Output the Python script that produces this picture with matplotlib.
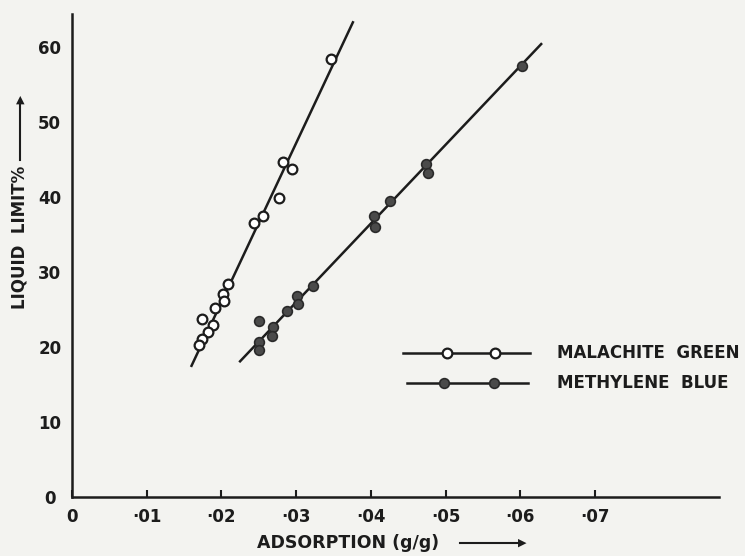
import matplotlib.pyplot as plt

# malachite green (open circles)
mg_x = [0.0347, 0.0282, 0.0294, 0.0277, 0.0243, 0.0256, 0.0209, 0.0202, 0.0204,
        0.0191, 0.0174, 0.0189, 0.0182, 0.0174, 0.0170]
mg_y = [58.4, 44.7, 43.7, 39.9, 36.5, 37.5, 28.4, 27.1, 26.1,
        25.2, 23.7, 22.9, 22.0, 21.1, 20.3]
mg_line_x = [0.0160, 0.0376]
mg_line_y = [17.5, 63.3]

# methylene blue (filled circles)
mb_x = [0.0250, 0.0250, 0.0250, 0.0269, 0.0268, 0.0288, 0.0301, 0.0303, 0.0323,
        0.0404, 0.0406, 0.0426, 0.0474, 0.0476, 0.0602]
mb_y = [23.5, 20.7, 19.6, 22.7, 21.5, 24.8, 26.8, 25.7, 28.1,
        37.5, 36.0, 39.5, 44.4, 43.2, 57.5]
mb_line_x = [0.0225, 0.0628]
mb_line_y = [18.1, 60.4]

x_ticks = [0.0, 0.01, 0.02, 0.03, 0.04, 0.05, 0.06, 0.07]
x_labels = ["0", "·01", "·02", "·03", "·04", "·05", "·06", "·07"]
y_ticks = [0, 10, 20, 30, 40, 50, 60]

paper = "#f3f3f0"
ink = "#1c1c1c"

fig = plt.figure(figsize=(7.45, 5.56), dpi=100, facecolor=paper)
ax = fig.add_axes([0.0966, 0.106, 0.8685, 0.8687], facecolor=paper)
ax.set_xlim(0, 0.0866)
ax.set_ylim(0, 64.4)

for s in ["top", "right"]:
    ax.spines[s].set_visible(False)
for s in ["left", "bottom"]:
    ax.spines[s].set_linewidth(1.8)
    ax.spines[s].set_color(ink)

ax.set_xticks(x_ticks)
ax.set_xticklabels(x_labels)
ax.set_yticks(y_ticks)
ax.tick_params(axis="x", direction="in", length=5, width=1.5, colors=ink,
               labelsize=12, pad=8)
ax.tick_params(axis="y", length=0, labelsize=12, pad=16, colors=ink)
for lab in ax.get_xticklabels() + ax.get_yticklabels():
    lab.set_fontweight("bold")
for lab in ax.get_yticklabels():
    lab.set_horizontalalignment("center")

ax.plot(mg_line_x, mg_line_y, color=ink, lw=1.8)
ax.plot(mb_line_x, mb_line_y, color=ink, lw=1.8)
ax.plot(mg_x, mg_y, "o", ms=7, mfc="white", mec=ink, mew=1.6, ls="none")
ax.plot(mb_x, mb_y, "o", ms=7, mfc="#4a4a4a", mec="#2a2a2a", mew=1.2, ls="none")

# hand-drawn style legend
ax.plot([0.0443, 0.0613], [19.2, 19.2], color=ink, lw=1.8, clip_on=False)
ax.plot([0.0502, 0.0566], [19.2, 19.2], "o", ms=7, mfc="white", mec=ink,
        mew=1.6, clip_on=False)
ax.plot([0.0448, 0.0610], [15.2, 15.2], color=ink, lw=1.8, clip_on=False)
ax.plot([0.0498, 0.0565], [15.2, 15.2], "o", ms=7, mfc="#4a4a4a", mec="#2a2a2a",
        mew=1.2, clip_on=False)
ax.text(0.0649, 19.2, "MALACHITE  GREEN", fontsize=12, fontweight="bold",
        va="center", ha="left", color=ink, clip_on=False)
ax.text(0.0649, 15.2, "METHYLENE  BLUE", fontsize=12, fontweight="bold",
        va="center", ha="left", color=ink, clip_on=False)

# axis titles with arrows
fig.text(20 / 745, 1 - 237 / 556, "LIQUID  LIMIT%", rotation=90, fontsize=12,
         fontweight="bold", ha="center", va="center", color=ink)
fig.add_artist(plt.Line2D([20 / 745, 20 / 745], [1 - 160 / 556, 1 - 100 / 556],
                          color=ink, lw=1.5))
fig.text(20 / 745, 1 - 100 / 556, "▲", fontsize=8, ha="center", va="center",
         color=ink)
fig.text(348 / 745, 1 - 543 / 556, "ADSORPTION (g/g)", fontsize=12.5,
         fontweight="bold", ha="center", va="center", color=ink)
fig.add_artist(plt.Line2D([460 / 745, 520 / 745], [1 - 543 / 556, 1 - 543 / 556],
                          color=ink, lw=1.5))
fig.text(522 / 745, 1 - 543 / 556, "▶", fontsize=8, ha="center", va="center",
         color=ink)

fig.savefig("out.png", dpi=100, facecolor=paper)
